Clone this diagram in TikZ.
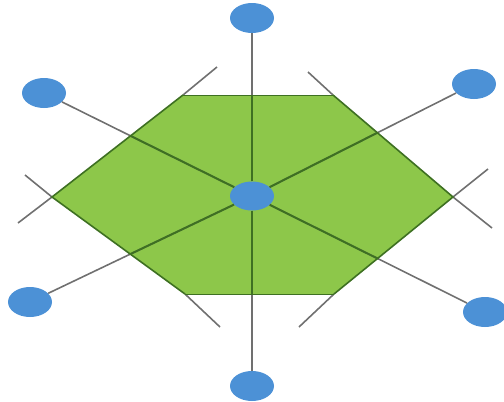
\documentclass[tikz,border=0pt]{standalone}
\usepackage{tikz}
\usetikzlibrary{shapes.geometric,backgrounds}
\usepackage{xcolor}
\definecolor{hexgreen}{RGB}{141,199,74}
\definecolor{rimgreen}{RGB}{62,112,34}
\definecolor{spokegray}{RGB}{112,112,112}
\definecolor{dotblue}{RGB}{76,145,214}

\begin{document}
\begin{tikzpicture}[x=1pt,y=-1pt,
  dot/.style={ellipse,fill=dotblue,inner sep=0pt,minimum width=44pt,minimum height=30pt},
  spoke/.style={draw=spokegray,line width=1.6pt},
  rim/.style={draw=spokegray,line width=1.6pt}]
\useasboundingbox (0,0) rectangle (504,402);
% hub and outer dots
\node[dot,minimum height=29pt] (hub) at (252,196) {};
\node[dot] (top) at (252,18) {};
\node[dot] (bot) at (252,386) {};
\node[dot] (nw) at (44,93) {};
\node[dot] (ne) at (474,84) {};
\node[dot] (sw) at (30,302) {};
\node[dot] (se) at (485,312) {};
% hexagon corners and free ends of the edge lines
\coordinate (tl) at (183,95);
\coordinate (tr) at (333,95);
\coordinate (r) at (453,197);
\coordinate (br) at (334,294);
\coordinate (bl) at (185,294);
\coordinate (l) at (52,197);
\coordinate (tlend) at (217,67);
\coordinate (lend1) at (18,223);
\coordinate (lend2) at (25,175);
\coordinate (blend) at (220,327);
\coordinate (trend) at (308,72);
\coordinate (rend1) at (492,228);
\coordinate (rend2) at (488,169);
\coordinate (brend) at (299,327);
\begin{scope}[on background layer]
\fill[hexgreen] (tl) -- (tr) -- (r) -- (br) -- (bl) -- (l) -- cycle;
\end{scope}
% edge lines running past the corners
\draw[rim] (tlend) -- (tl);
\draw[rim] (l) -- (lend1);
\draw[rim] (lend2) -- (l);
\draw[rim] (bl) -- (blend);
\draw[rim] (trend) -- (tr);
\draw[rim] (r) -- (rend1);
\draw[rim] (rend2) -- (r);
\draw[rim] (br) -- (brend);
% spokes
\foreach \n in {top,bot,nw,ne,sw,se}
  \draw[spoke] (hub) -- (\n);
\begin{scope}
\clip (tl) -- (tr) -- (r) -- (br) -- (bl) -- (l) -- cycle;
\foreach \n in {top,bot,nw,ne,sw,se}
  \draw[spoke,draw=rimgreen,line width=2pt] (hub) -- (\n);
\end{scope}
\draw[rimgreen,line width=0.8pt] (tl) -- (tr) (br) -- (bl);
\draw[rimgreen,line width=1.6pt,line join=miter] (tr) -- (r) -- (br) (bl) -- (l) -- (tl);
\end{tikzpicture}
\end{document}
